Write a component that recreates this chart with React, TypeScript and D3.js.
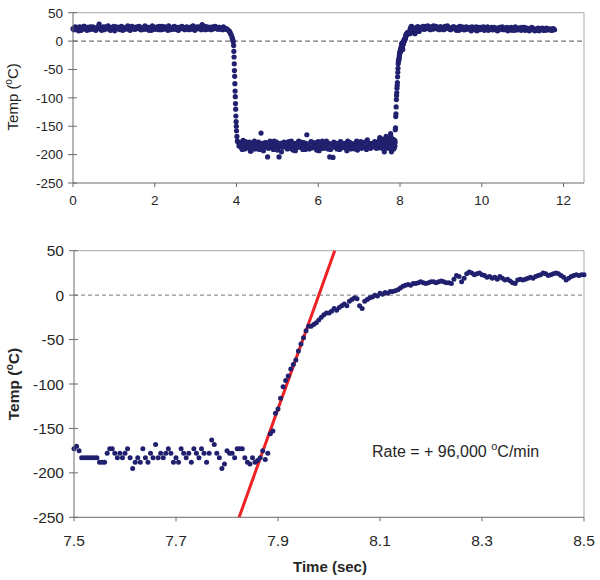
import React from 'react';
import * as d3 from 'd3';

// ---------- data ----------
const TOP_X_TICKS = [0, 2, 4, 6, 8, 10, 12];
const Y_TICKS = [50, 0, -50, -100, -150, -200, -250];
const BOTTOM_X_TICKS = [7.5, 7.7, 7.9, 8.1, 8.3, 8.5];

// Zoomed record, 7.5 s .. 8.5 s, sampled every 5 ms
const ZOOM_START = 7.5;
const ZOOM_STEP = 0.005;
const zoomTemps = [
  -173, -170, -175, -183, -183, -183, -183, -183, -183, -183,
  -188, -188, -188, -178, -173, -173, -178, -183, -178, -183,
  -178, -173, -183, -195, -188, -183, -188, -173, -183, -188,
  -178, -183, -168, -183, -178, -183, -178, -173, -178, -188,
  -183, -188, -173, -178, -183, -178, -188, -173, -178, -183,
  -173, -178, -188, -178, -163, -168, -178, -183, -195, -190,
  -175, -178, -178, -183, -173, -173, -173, -183, -188, -190,
  -183, -188, -186, -183, -175, -185, -178, -156, -153, -133,
  -128, -116, -103, -96, -91, -83, -78, -73, -63, -55,
  -48, -40, -35, -35, -33, -31, -28, -25, -22, -20,
  -20, -18, -15, -17, -14, -12, -10, -12, -7, -5,
  -3, -4, -12, -15, -7, -5, -3, -2, 0, -1,
  2, 1, 3, 2, 4, 4, 5, 6, 8, 10,
  11, 12, 11, 13, 13, 14, 15, 14, 13, 14,
  15, 15, 14, 15, 16, 15, 14, 14, 13, 18,
  22, 21, 15, 19, 24, 26, 25, 23, 24, 25,
  23, 22, 20, 21, 19, 20, 18, 21, 19, 17,
  18, 16, 14, 13, 17, 18, 17, 18, 19, 20,
  19, 21, 22, 23, 25, 24, 22, 23, 24, 25,
  24, 22, 20, 17, 19, 21, 22, 23, 22, 23,
  23,
];

// Full record (top panel), coarser sampling outside the zoomed window
const WARM_A_STEP = 0.04;
const WARM_A_START = 0;
const warmATemps = [
  22, 24, 20, 23, 25, 19, 22, 26, 21, 24,
  20, 23, 25, 22, 19, 24, 30, 21, 23, 20,
  25, 22, 24, 19, 23, 26, 21, 22, 24, 20,
  25, 23, 21, 24, 22, 19, 26, 23, 21, 25,
  22, 24, 20, 23, 27, 21, 24, 22, 19, 25,
  23, 21, 24, 26, 20, 22, 25, 23, 19, 24,
  22, 21, 26, 23, 20, 24, 22, 25, 21, 23,
  24, 20, 22, 26, 23, 21, 25, 22, 24, 29,
  23, 20, 25, 22, 24, 21, 23, 26, 22, 24,
  21, 23, 25, 22,
];
const WARM_A2_START = 0.02;
const warmA2Temps = [
  20, 25, 22, 18, 24, 21, 26, 23, 19, 22,
  25, 21, 24, 20, 23, 26, 22, 19, 25, 21,
  23, 27, 20, 24, 22, 18, 25, 23, 21, 26,
  19, 22, 24, 27, 20, 23, 25, 21, 22, 24,
  26, 20, 23, 21, 25, 22, 19, 24, 27, 21,
  22, 25, 20, 23, 26, 21, 24, 22, 27, 20,
  23, 25, 21, 24, 19, 22, 26, 23, 20, 25,
  22, 24, 21, 27, 19, 23, 22, 25, 20, 24,
  26, 22, 21, 24, 20, 25, 22, 23, 21, 24,
  22, 20, 23, 21,
];
const dropTimes = [3.74, 3.77, 3.8, 3.83, 3.85, 3.87, 3.89, 3.9, 3.91, 3.92, 3.93, 3.935, 3.94, 3.945, 3.95, 3.955, 3.96, 3.965, 3.97, 3.975, 3.98, 3.985, 3.99, 3.995, 4.0, 4.01, 4.02];
const dropTemps = [22, 21, 19, 17, 14, 11, 7, 4, 2, -1, -8, -18, -28, -40, -52, -62, -75, -88, -98, -110, -120, -132, -142, -150, -158, -168, -176];
const COLD_STEP = 0.04;
const COLD_START = 4.04;
const coldTemps = [
  -178, -183, -188, -175, -190, -181, -186, -178, -193, -183,
  -176, -188, -182, -191, -162, -180, -186, -179, -204, -185,
  -181, -189, -176, -184, -192, -204, -180, -187, -178, -183,
  -190, -177, -185, -188, -180, -193, -182, -176, -187, -184,
  -179, -191, -165, -183, -188, -178, -186, -181, -192, -177,
  -185, -189, -180, -183, -176, -190, -204, -182, -205, -187,
  -180, -184, -191, -178, -186, -182, -189, -176, -185, -190,
  -181, -187, -179, -192, -183, -177, -186, -180, -188, -174,
  -184, -189, -180, -186, -178, -183, -188,
];
const COLD2_START = 4.06;
const cold2Temps = [
  -185, -179, -191, -183, -177, -188, -181, -194, -186, -180,
  -190, -184, -178, -187, -182, -193, -179, -185, -189, -176,
  -184, -191, -182, -178, -188, -185, -195, -181, -186, -179,
  -183, -189, -176, -192, -185, -180, -187, -183, -178, -191,
  -186, -180, -184, -190, -177, -188, -183, -179, -185, -193,
  -181, -176, -189, -184, -187, -180, -191, -183, -178, -186,
  -190, -182, -177, -188, -184, -180, -193, -185, -179, -187,
  -183, -190, -176, -185, -181, -189, -184, -178, -191, -186,
  -180, -187, -183, -177, -189, -184,
];
const WARM_B_STEP = 0.04;
const WARM_B_START = 8.54;
const warmBTemps = [
  24, 21, 26, 22, 25, 20, 23, 27, 22, 24,
  21, 25, 23, 20, 26, 22, 24, 21, 23, 25,
  22, 19, 24, 26, 21, 23, 20, 25, 22, 24,
  18, 23, 21, 25, 22, 20, 24, 23, 19, 22,
  25, 21, 23, 20, 24, 22, 18, 23, 21, 25,
  22, 20, 24, 21, 23, 19, 22, 25, 20, 23,
  21, 24, 22, 19, 23, 21, 20, 24, 22, 18,
  21, 23, 20, 22, 19, 21, 23, 20, 21, 19,
  22, 20,
];
const WARM_B2_START = 8.52;
const warmB2Temps = [
  23, 26, 21, 24, 27, 22, 25, 21, 24, 26,
  22, 20, 25, 23, 21, 24, 27, 22, 20, 24,
  25, 21, 23, 19, 22, 25, 20, 24, 21, 23,
  22, 25, 20, 23, 18, 24, 21, 22, 25, 20,
  23, 19, 22, 24, 20, 21, 23, 19, 24, 22,
  20, 23, 21, 18, 22, 24, 21, 19, 22, 20,
  23, 19, 21, 24, 20, 22, 18, 21, 23, 19,
  20, 22, 18, 21, 23, 20, 19, 22, 20, 21,
  19, 21,
];

// Linear fit of the heating ramp
const RATE_C_PER_MIN = 96000;
const FIT_ZERO_TIME = 7.98; // s, where the fitted line crosses 0 °C
const RATE_LABEL = 'Rate = + 96,000 ';

// ---------- helpers ----------
type P = { t: number; v: number };
const seq = (start: number, step: number, vals: number[]): P[] =>
  vals.map((v, i) => ({ t: +(start + i * step).toFixed(4), v }));

const zoomPts = seq(ZOOM_START, ZOOM_STEP, zoomTemps);
const fullPts: P[] = [
  ...seq(WARM_A_START, WARM_A_STEP, warmATemps),
  ...seq(WARM_A2_START, WARM_A_STEP, warmA2Temps),
  ...dropTimes.map((t, i) => ({ t, v: dropTemps[i] })),
  ...seq(COLD_START, COLD_STEP, coldTemps),
  ...seq(COLD2_START, COLD_STEP, cold2Temps),
  ...zoomPts,
  ...seq(WARM_B_START, WARM_B_STEP, warmBTemps),
  ...seq(WARM_B2_START, WARM_B_STEP, warmB2Temps),
];

const FONT = "'Liberation Sans', Arial, Helvetica, sans-serif";
const DOT = '#20206e';
const AXIS = '#6a6a6a';
const FRAME = '#a8a8a8';
const TXT = '#262626';

export default function App() {
  // top panel
  const tL = 73, tR = 584, tT = 12.7, tB = 183;
  const tx = d3.scaleLinear().domain([0, 12.5]).range([tL, tR]);
  const ty = d3.scaleLinear().domain([-250, 50]).range([tB, tT]);
  // bottom panel
  const bL = 74, bR = 584, bT = 250.7, bB = 517.3;
  const bx = d3.scaleLinear().domain([7.5, 8.5]).range([bL, bR]);
  const by = d3.scaleLinear().domain([-250, 50]).range([bB, bT]);

  const ratePerSec = RATE_C_PER_MIN / 60;
  const fitT = (T: number) => FIT_ZERO_TIME + T / ratePerSec;
  const fitLine = d3.line<number>().x((T) => bx(fitT(T))).y((T) => by(T));

  return (
    <svg width={600} height={580} style={{ position: 'absolute', left: 0, top: 0, background: '#fff' }} fontFamily={FONT}>
      <rect x={0} y={0} width={600} height={580} fill="#fff" />
      {/* ---------- TOP ---------- */}
      <g>
        <line x1={tL} x2={tR} y1={tT} y2={tT} stroke={FRAME} />
        <line x1={tR} x2={tR} y1={tT} y2={tB} stroke={FRAME} />
        <line x1={tL} x2={tR} y1={ty(0)} y2={ty(0)} stroke="#777" strokeWidth={1.2} strokeDasharray="5,3" />
        {fullPts.map((p, i) => (
          <circle key={i} cx={tx(p.t)} cy={ty(p.v)} r={2.6} fill={DOT} />
        ))}
        <line x1={tL} x2={tL} y1={tT} y2={tB} stroke={AXIS} />
        <line x1={tL} x2={tR} y1={tB} y2={tB} stroke={AXIS} />
        {Y_TICKS.map((v) => (
          <g key={v}>
            <line x1={tL - 5} x2={tL + 4} y1={ty(v)} y2={ty(v)} stroke={AXIS} />
            <text x={63} y={ty(v)} dy="0.36em" textAnchor="end" fontSize={13.5} fill={TXT}>{v}</text>
          </g>
        ))}
        {TOP_X_TICKS.map((v) => (
          <g key={v}>
            <line x1={tx(v)} x2={tx(v)} y1={tB} y2={tB + 4} stroke={AXIS} />
            <text x={tx(v)} y={205} textAnchor="middle" fontSize={13.5} fill={TXT}>{v}</text>
          </g>
        ))}
        <text transform={`translate(18,${(tT + tB) / 2 - 1}) rotate(-90)`} textAnchor="middle" fontSize={15} fill={TXT}>
          Temp (<tspan fontSize={10} dy={-6}>o</tspan><tspan dy={6}>C)</tspan>
        </text>
      </g>

      {/* ---------- BOTTOM ---------- */}
      <g>
        <line x1={bL} x2={bR} y1={bT} y2={bT} stroke={FRAME} />
        <line x1={bR} x2={bR} y1={bT} y2={bB} stroke={FRAME} />
        <line x1={bL} x2={bR} y1={by(0)} y2={by(0)} stroke="#777" strokeWidth={1} strokeDasharray="4,3" />
        <path d={fitLine([-250, 50]) ?? ''} stroke="#ee2224" strokeWidth={3} fill="none" />
        {zoomPts.map((p, i) => (
          <circle key={i} cx={bx(p.t)} cy={by(p.v)} r={2.5} fill={DOT} />
        ))}
        <line x1={bL} x2={bL} y1={bT} y2={bB} stroke={AXIS} />
        <line x1={bL} x2={bR} y1={bB} y2={bB} stroke={AXIS} />
        {Y_TICKS.map((v) => (
          <g key={v}>
            <line x1={bL - 5} x2={bL + 4} y1={by(v)} y2={by(v)} stroke={AXIS} />
            <text x={64} y={by(v)} dy="0.36em" textAnchor="end" fontSize={15.5} fill={TXT}>{v}</text>
          </g>
        ))}
        {BOTTOM_X_TICKS.map((v) => (
          <g key={v}>
            <line x1={bx(v)} x2={bx(v)} y1={bB} y2={bB + 4} stroke={AXIS} />
            <text x={bx(v)} y={546} textAnchor="middle" fontSize={15.5} fill={TXT}>{v.toFixed(1)}</text>
          </g>
        ))}
        <text transform={`translate(19,${(bT + bB) / 2}) rotate(-90)`} textAnchor="middle" fontSize={15.5} fontWeight="bold" fill={TXT}>
          Temp (<tspan fontSize={10.5} dy={-6}>o</tspan><tspan dy={6}>C)</tspan>
        </text>
        <text x={330} y={572} textAnchor="middle" fontSize={15} fontWeight="bold" fill={TXT}>Time (sec)</text>
        <text x={372} y={457} fontSize={16} fill={TXT}>
          {RATE_LABEL}<tspan fontSize={11} dy={-7}>o</tspan><tspan dy={7}>C/min</tspan>
        </text>
      </g>
    </svg>
  );
}
